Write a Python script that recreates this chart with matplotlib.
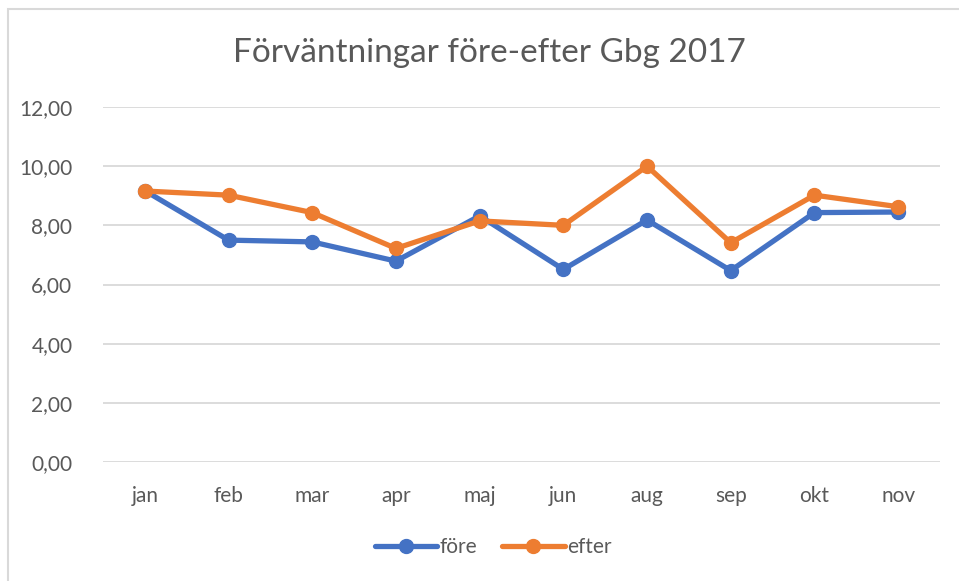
import matplotlib.pyplot as plt
from matplotlib.ticker import FuncFormatter
from matplotlib.patches import Rectangle

months = ['jan', 'feb', 'mar', 'apr', 'maj', 'jun', 'aug', 'sep', 'okt', 'nov']
fore = [9.17, 7.50, 7.44, 6.79, 8.32, 6.51, 8.18, 6.47, 8.43, 8.45]
efter = [9.16, 9.02, 8.43, 7.22, 8.15, 8.00, 10.00, 7.41, 9.02, 8.63]

plt.rcParams['font.family'] = ['Lato', 'DejaVu Sans']
txt = '#595959'

fig = plt.figure(figsize=(9.59, 5.81), dpi=100)
# chart frame (only left/top visible in the crop)
fig.patches.append(Rectangle((8 / 959, -0.05), 1.2, (581 - 9) / 581 + 0.05,
                             transform=fig.transFigure, fill=False,
                             edgecolor='#D9D9D9', linewidth=1.5))

ax = fig.add_axes([103 / 959, (581 - 462) / 581, 837 / 959, 355 / 581])
x = range(len(months))
ax.plot(x, fore, color='#4472C4', lw=3.8, marker='o', ms=10, label='före',
        solid_capstyle='round', zorder=3)
ax.plot(x, efter, color='#ED7D31', lw=3.8, marker='o', ms=10, label='efter',
        solid_capstyle='round', zorder=4)

ax.set_xlim(-0.5, len(months) - 0.5)
ax.set_ylim(0, 12)
ax.set_yticks(range(0, 13, 2))
ax.yaxis.set_major_formatter(FuncFormatter(lambda v, p: f'{v:.2f}'.replace('.', ',')))
ax.set_xticks(list(x))
ax.set_xticklabels(months)
ax.grid(axis='y', color='#D9D9D9', lw=1.3)
ax.set_axisbelow(True)
for s in ax.spines.values():
    s.set_visible(False)
ax.tick_params(length=0, labelsize=15, labelcolor=txt)
ax.tick_params(axis='y', pad=22)
ax.tick_params(axis='x', pad=17)

fig.text(489 / 959, 1 - 53 / 581, 'Förväntningar före-efter Gbg 2017', ha='center',
         va='center', fontsize=24, color=txt)
fig.legend(loc='center', bbox_to_anchor=(493 / 959, 1 - 547 / 581), ncol=2,
           frameon=False, fontsize=15, labelcolor=txt, handlelength=3,
           handletextpad=0.1, columnspacing=1.2)

fig.savefig('out.png', dpi=100, facecolor='white')
